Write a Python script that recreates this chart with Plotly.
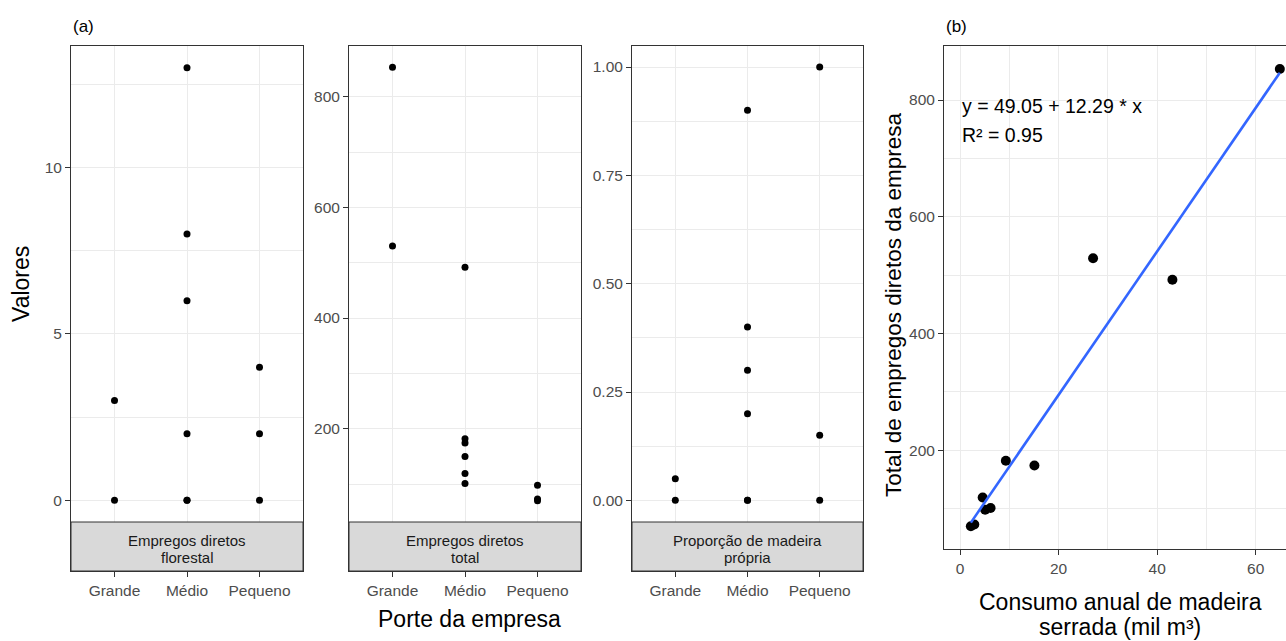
import plotly.graph_objects as go

W, H = 1286, 641
FONT = "Liberation Sans, Arial, sans-serif"


def fx(px):
    return px / W


def fy(py):
    return 1 - py / H


# ---------------- data ----------------
categorias = ["Grande", "Médio", "Pequeno"]

# Empregos diretos florestal
flor_grande = [0, 3]
flor_medio = [0, 0, 2, 6, 8, 13]
flor_pequeno = [0, 2, 4]

# Empregos diretos total
total_grande = [853, 530]
total_medio = [492, 182, 174, 150, 119, 101]
total_pequeno = [98, 73, 70]

# Proporção de madeira própria
prop_grande = [0, 0.05]
prop_medio = [0, 0, 0.2, 0.3, 0.4, 0.9]
prop_pequeno = [0, 0.15, 1.0]

# Panel (b)
consumo = [2.2, 2.9, 4.6, 5.1, 6.2, 9.3, 15.1, 27.0, 43.1, 64.9]
empregos = [70, 73, 119, 98, 101, 182, 174, 529, 492, 853]
intercepto = 49.05
inclinacao = 12.29
r2 = 0.95

strip_labels = [
    ["Empregos diretos", "florestal"],
    ["Empregos diretos", "total"],
    ["Proporção de madeira", "própria"],
]

y1_ticks = [0, 5, 10]
y1_ticktext = ["0", "5", "10"]
y1_minor = [2.5, 7.5, 12.5]
y2_ticks = [200, 400, 600, 800]
y2_ticktext = ["200", "400", "600", "800"]
y2_minor = [100, 300, 500, 700]
y3_ticks = [0, 0.25, 0.5, 0.75, 1.0]
y3_ticktext = ["0.00", "0.25", "0.50", "0.75", "1.00"]
y3_minor = [0.125, 0.375, 0.625, 0.875]
xb_ticks = [0, 20, 40, 60]
xb_minor = [10, 30, 50]
yb_ticks = [200, 400, 600, 800]
yb_minor = [100, 300, 500, 700]

# ---------------- figure ----------------
fig = go.Figure()

panel_data = [
    (flor_grande, flor_medio, flor_pequeno),
    (total_grande, total_medio, total_pequeno),
    (prop_grande, prop_medio, prop_pequeno),
]

for i, groups in enumerate(panel_data):
    xs, ys = [], []
    for cat, vals in zip(categorias, groups):
        xs += [cat] * len(vals)
        ys += list(vals)
    suffix = "" if i == 0 else str(i + 1)
    fig.add_trace(go.Scatter(
        x=xs, y=ys, mode="markers",
        marker=dict(size=7, color="black"),
        xaxis="x" + suffix, yaxis="y" + suffix,
        showlegend=False, hoverinfo="skip",
    ))

# panel (b) points
fig.add_trace(go.Scatter(
    x=consumo, y=empregos, mode="markers",
    marker=dict(size=10, color="black"),
    xaxis="x4", yaxis="y4", showlegend=False, hoverinfo="skip",
))
# regression line
x_line = [min(consumo), max(consumo)]
y_line = [intercepto + inclinacao * v for v in x_line]
fig.add_trace(go.Scatter(
    x=x_line, y=y_line, mode="lines",
    line=dict(color="#3366FF", width=2.6),
    xaxis="x4", yaxis="y4", showlegend=False, hoverinfo="skip",
))

grid = "#EBEBEB"
line_col = "#333333"
tickfont = dict(family=FONT, size=15.5, color="#4D4D4D")

common_x = dict(
    showline=True, mirror=True, linecolor=line_col, linewidth=1,
    ticks="outside", ticklen=5, tickcolor=line_col, tickwidth=1,
    showgrid=True, gridcolor=grid, gridwidth=1, zeroline=False,
    tickfont=tickfont,
)
common_y = dict(
    showline=True, mirror=True, linecolor=line_col, linewidth=1,
    ticks="outside", ticklen=5, tickcolor=line_col, tickwidth=1,
    showgrid=True, gridcolor=grid, gridwidth=1, zeroline=False,
    tickfont=tickfont,
)

panel_x_px = [(71, 303), (349, 581), (632, 863)]
y_ranges = [[-2.122, 13.65], [-57.1, 891.6], [-0.163, 1.0485]]
y_ticks = [(y1_ticks, y1_ticktext, y1_minor),
           (y2_ticks, y2_ticktext, y2_minor),
           (y3_ticks, y3_ticktext, y3_minor)]

layout = {}
for i in range(3):
    suffix = "" if i == 0 else str(i + 1)
    x0, x1 = panel_x_px[i]
    layout["xaxis" + suffix] = dict(
        common_x, domain=[fx(x0), fx(x1)], anchor="y" + suffix,
        type="category", categoryorder="array", categoryarray=categorias,
        range=[-0.6, 2.6],
    )
    tv, tt, mv = y_ticks[i]
    layout["yaxis" + suffix] = dict(
        common_y, domain=[fy(571), fy(46)], anchor="x" + suffix,
        range=y_ranges[i], tickmode="array", tickvals=tv, ticktext=tt,
        minor=dict(tickvals=mv, showgrid=True, gridcolor=grid, gridwidth=0.6, ticks=""),
    )

layout["xaxis4"] = dict(
    common_x, domain=[fx(944), 1.0], anchor="y4", range=[-3.25, 66.15],
    tickmode="array", tickvals=xb_ticks, ticktext=[str(v) for v in xb_ticks],
    minor=dict(tickvals=xb_minor, showgrid=True, gridcolor=grid, gridwidth=0.6, ticks=""),
)
layout["yaxis4"] = dict(
    common_y, mirror=False, domain=[fy(549), fy(46)], anchor="x4",
    range=[30.9, 892.5], tickmode="array", tickvals=yb_ticks,
    ticktext=[str(v) for v in yb_ticks],
    minor=dict(tickvals=yb_minor, showgrid=True, gridcolor=grid, gridwidth=0.6, ticks=""),
)

shapes = []
annotations = []
for i in range(3):
    x0, x1 = panel_x_px[i]
    shapes.append(dict(
        type="rect", xref="paper", yref="paper",
        x0=fx(x0), x1=fx(x1), y0=fy(571), y1=fy(522),
        fillcolor="#D9D9D9", line=dict(color=line_col, width=1), layer="above",
    ))
    cx = (x0 + x1) / 2
    for j, (txt, py) in enumerate(zip(strip_labels[i], [540, 557])):
        annotations.append(dict(
            text=txt, x=fx(cx), y=fy(py), xref="paper", yref="paper",
            xanchor="center", yanchor="middle", showarrow=False,
            font=dict(family=FONT, size=15, color="#1A1A1A"),
        ))

title_font = dict(family=FONT, size=23, color="black")
label_font = dict(family=FONT, size=17, color="black")

annotations += [
    dict(text="(a)", x=fx(71), y=fy(27), xref="paper", yref="paper",
         xanchor="left", yanchor="middle", showarrow=False, font=label_font),
    dict(text="(b)", x=fx(944), y=fy(27), xref="paper", yref="paper",
         xanchor="left", yanchor="middle", showarrow=False, font=label_font),
    dict(text="Valores", x=fx(21), y=fy(284), xref="paper", yref="paper",
         xanchor="center", yanchor="middle", textangle=-90, showarrow=False, font=title_font),
    dict(text="Porte da empresa", x=fx(469), y=fy(619), xref="paper", yref="paper",
         xanchor="center", yanchor="middle", showarrow=False, font=title_font),
    dict(text="Total de empregos diretos da empresa", x=fx(893), y=fy(305),
         xref="paper", yref="paper", xanchor="center", yanchor="middle",
         textangle=-90, showarrow=False, font=dict(family=FONT, size=22.5, color="black")),
    dict(text="Consumo anual de madeira", x=fx(1120), y=fy(602), xref="paper", yref="paper",
         xanchor="center", yanchor="middle", showarrow=False, font=title_font),
    dict(text="serrada (mil m³)", x=fx(1120), y=fy(627), xref="paper", yref="paper",
         xanchor="center", yanchor="middle", showarrow=False, font=title_font),
    dict(text=f"y = {intercepto:.2f} + {inclinacao:.2f} * x", x=fx(960), y=fy(106),
         xref="paper", yref="paper", xanchor="left", yanchor="middle", showarrow=False,
         font=dict(family=FONT, size=19.5, color="black")),
    dict(text=f"R² = {r2:.2f}", x=fx(960), y=fy(135),
         xref="paper", yref="paper", xanchor="left", yanchor="middle", showarrow=False,
         font=dict(family=FONT, size=19.5, color="black")),
]

fig.update_layout(
    width=W, height=H, autosize=False,
    margin=dict(l=0, r=0, t=0, b=0, pad=0),
    paper_bgcolor="white", plot_bgcolor="white",
    shapes=shapes, annotations=annotations,
    **layout,
)

fig.write_html("out.html")
